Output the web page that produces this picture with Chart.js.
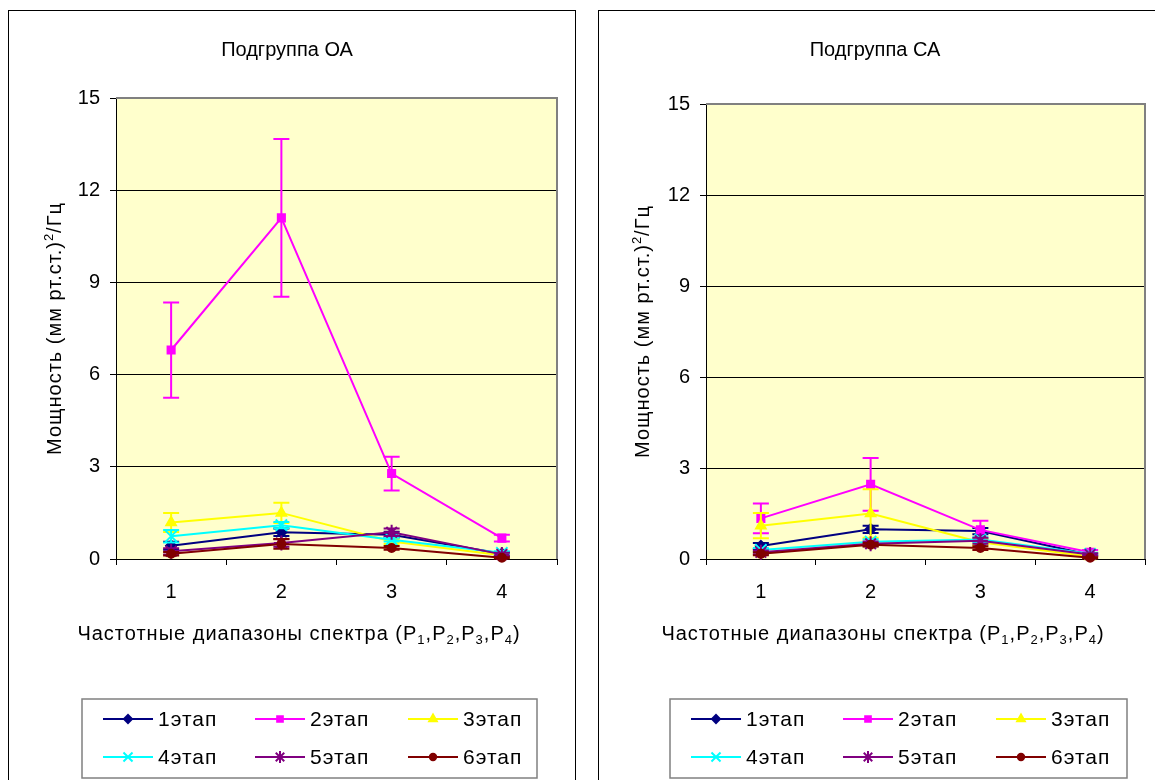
<!DOCTYPE html>
<html>
<head>
<meta charset="utf-8">
<script src="https://cdn.jsdelivr.net/npm/chart.js@4.4.1/dist/chart.umd.min.js"></script>
<style>
  html, body { margin: 0; padding: 0; background: #fff; width: 1155px; height: 780px; overflow: hidden; }
  .frame { position: absolute; border: 1px solid #000; box-sizing: border-box; }
  canvas { position: absolute; top: 0; }
</style>
</head>
<body>
<div class="frame" style="left:8px;top:10px;width:568px;height:800px"></div>
<div class="frame" style="left:598px;top:10px;width:620px;height:800px"></div>
<canvas id="chartOA" width="578" height="780" style="left:0"></canvas>
<canvas id="chartCA" width="567" height="780" style="left:588px"></canvas>
<script>
// Spectral bands (x axis categories)
const categories = ['1', '2', '3', '4'];
const stageNames = ['1этап', '2этап', '3этап', '4этап', '5этап', '6этап'];
const yTickValues = [0, 3, 6, 9, 12, 15];

// Subgroup OA: mean power per band, per stage
const oaStage1 = [0.43, 0.87, 0.79, 0.17];
const oaStage2 = [6.80, 11.10, 2.78, 0.68];
const oaStage3 = [1.19, 1.50, 0.57, 0.12];
const oaStage4 = [0.74, 1.10, 0.63, 0.20];
const oaStage5 = [0.25, 0.52, 0.87, 0.15];
const oaStage6 = [0.17, 0.49, 0.36, 0.04];
// Subgroup OA: error bar half-widths
const oaErr1 = [0.13, 0.12, 0.10, 0.05];
const oaErr2 = [1.55, 2.57, 0.55, 0.11];
const oaErr3 = [0.31, 0.33, 0.08, 0.04];
const oaErr4 = [0.20, 0.10, 0.06, 0.05];
const oaErr5 = [0.10, 0.12, 0.12, 0.05];
const oaErr6 = [0.06, 0.16, 0.06, 0.02];

// Subgroup CA: mean power per band, per stage
const caStage1 = [0.43, 0.98, 0.92, 0.14];
const caStage2 = [1.34, 2.46, 0.96, 0.22];
const caStage3 = [1.10, 1.50, 0.55, 0.08];
const caStage4 = [0.30, 0.57, 0.64, 0.17];
const caStage5 = [0.22, 0.50, 0.60, 0.15];
const caStage6 = [0.17, 0.47, 0.36, 0.04];
// Subgroup CA: error bar half-widths
const caErr1 = [0.10, 0.12, 0.10, 0.04];
const caErr2 = [0.49, 0.87, 0.30, 0.08];
const caErr3 = [0.42, 0.80, 0.10, 0.03];
const caErr4 = [0.06, 0.08, 0.08, 0.04];
const caErr5 = [0.06, 0.08, 0.10, 0.04];
const caErr6 = [0.05, 0.06, 0.06, 0.02];

// Axis titles, with sub/superscript runs
const xTitleRuns = [
  { text: 'Частотные диапазоны спектра (P' }, { text: '1', sub: true },
  { text: ',P' }, { text: '2', sub: true },
  { text: ',P' }, { text: '3', sub: true },
  { text: ',P' }, { text: '4', sub: true },
  { text: ')' }
];
const yTitleRuns = [
  { text: 'Мощность (мм рт.ст.)' }, { text: '2', sup: true }, { text: '/Гц' }
];

// Series appearance
const stageColors = ['#000080', '#FF00FF', '#FFFF00', '#00FFFF', '#800080', '#800000'];
const stageMarkers = ['rectRot', 'rect', 'triangle', 'crossRot', 'star', 'circle'];
const stageMarkerRadius = [5, 5, 5.5, 8, 7.5, 4];

const FONT = "'Liberation Sans', Arial, sans-serif";
Chart.defaults.font.family = FONT;
Chart.defaults.color = '#000';

// Pale yellow plot background and grey top/right frame
const plotBackground = {
  id: 'plotBackground',
  beforeDraw(chart) {
    const { ctx, chartArea: a } = chart;
    ctx.save();
    ctx.fillStyle = '#FFFFCC';
    ctx.fillRect(a.left, a.top, a.right - a.left, a.bottom - a.top);
    ctx.restore();
  },
  beforeDatasetsDraw(chart) {
    const { ctx, chartArea: a } = chart;
    ctx.save();
    ctx.strokeStyle = '#808080';
    ctx.lineWidth = 2;
    ctx.beginPath();
    ctx.moveTo(a.left, a.top);
    ctx.lineTo(a.right, a.top);
    ctx.lineTo(a.right, a.bottom);
    ctx.stroke();
    ctx.restore();
  }
};

// Vertical error bars with caps, positioned through the y scale
const errorBars = {
  id: 'errorBars',
  beforeDatasetDraw(chart, args) {
    const ds = chart.data.datasets[args.index];
    const errs = ds.errors;
    if (!errs) return;
    const ys = chart.scales.y;
    const ctx = chart.ctx;
    ctx.save();
    ctx.strokeStyle = ds.borderColor;
    ctx.lineWidth = 2;
    args.meta.data.forEach((pt, j) => {
      const v = ds.data[j], e = errs[j];
      const top = ys.getPixelForValue(v + e);
      const bot = ys.getPixelForValue(Math.max(v - e, 0));
      const cap = 8;
      ctx.beginPath();
      ctx.moveTo(pt.x, top); ctx.lineTo(pt.x, bot);
      ctx.moveTo(pt.x - cap, top); ctx.lineTo(pt.x + cap, top);
      ctx.moveTo(pt.x - cap, bot); ctx.lineTo(pt.x + cap, bot);
      ctx.stroke();
    });
    ctx.restore();
  }
};

// Text made of runs, centred at (cx, cy), optionally rotated
function drawRuns(ctx, runs, cx, cy, rotation) {
  const base = '20px ' + FONT, small = '13px ' + FONT;
  ctx.save();
  ctx.translate(cx, cy);
  ctx.rotate(rotation);
  ctx.textAlign = 'left';
  ctx.textBaseline = 'alphabetic';
  ctx.letterSpacing = '1px';
  let width = 0;
  runs.forEach(r => { ctx.font = (r.sub || r.sup) ? small : base; width += ctx.measureText(r.text).width; });
  let x = -width / 2;
  runs.forEach(r => {
    ctx.font = (r.sub || r.sup) ? small : base;
    const dy = r.sub ? 4 : (r.sup ? -8 : 0);
    ctx.fillText(r.text, x, 7 + dy);
    x += ctx.measureText(r.text).width;
  });
  ctx.restore();
}

// Chart title and axis titles
const chartTexts = {
  id: 'chartTexts',
  afterDraw(chart, args, opts) {
    const ctx = chart.ctx, a = chart.chartArea;
    ctx.save();
    ctx.fillStyle = '#000';
    ctx.font = '20px ' + FONT;
    ctx.textAlign = 'center';
    ctx.textBaseline = 'middle';
    ctx.fillText(opts.title, opts.titleX, opts.titleY);
    drawRuns(ctx, xTitleRuns, opts.xTitleX, opts.xTitleY, 0);
    drawRuns(ctx, yTitleRuns, opts.yTitleX, (a.top + a.bottom) / 2, -Math.PI / 2);
    ctx.restore();
  }
};

// Boxed legend: three columns, two rows, line sample with marker
const stageLegend = {
  id: 'stageLegend',
  afterDraw(chart, args, opts) {
    const ctx = chart.ctx;
    ctx.save();
    ctx.strokeStyle = '#808080';
    ctx.lineWidth = 1.5;
    ctx.strokeRect(opts.left, opts.top, opts.width, opts.height);
    const colX = [21, 173, 326];
    const rowY = [20, 58];
    chart.data.datasets.forEach((ds, i) => {
      const x0 = opts.left + colX[i % 3];
      const y = opts.top + rowY[Math.floor(i / 3)];
      ctx.strokeStyle = ds.borderColor;
      ctx.lineWidth = 2;
      ctx.beginPath();
      ctx.moveTo(x0, y);
      ctx.lineTo(x0 + 50, y);
      ctx.stroke();
      ctx.fillStyle = ds.pointBackgroundColor;
      ctx.strokeStyle = ds.pointBorderColor;
      ctx.lineWidth = 2;
      Chart.helpers.drawPoint(ctx, {
        pointStyle: ds.pointStyle,
        radius: ds.pointRadius * 0.8,
        rotation: 0,
        borderWidth: 2
      }, x0 + 25, y);
      ctx.fillStyle = '#000';
      ctx.font = '21px ' + FONT;
      ctx.letterSpacing = '1px';
      ctx.textBaseline = 'middle';
      ctx.textAlign = 'left';
      ctx.fillText(ds.label, x0 + 55, y + 1);
      ctx.letterSpacing = '0px';
    });
    ctx.restore();
  }
};

function buildDatasets(series, errors) {
  return series.map((values, i) => ({
    label: stageNames[i],
    data: values,
    errors: errors[i],
    borderColor: stageColors[i],
    backgroundColor: stageColors[i],
    pointBackgroundColor: stageColors[i],
    pointBorderColor: stageColors[i],
    pointBorderWidth: 2,
    pointStyle: stageMarkers[i],
    pointRadius: stageMarkerRadius[i],
    borderWidth: 2,
    tension: 0,
    clip: false,
    order: series.length - i
  }));
}

function makeChart(canvasId, titleText, series, errors, layout) {
  return new Chart(document.getElementById(canvasId), {
    type: 'line',
    data: { labels: categories, datasets: buildDatasets(series, errors) },
    plugins: [plotBackground, errorBars, chartTexts, stageLegend],
    options: {
      responsive: false,
      animation: false,
      events: [],
      layout: { padding: { left: layout.padLeft, right: layout.padRight, top: layout.plotTop, bottom: 131 } },
      plugins: {
        legend: { display: false },
        tooltip: { enabled: false },
        title: { display: false },
        chartTexts: {
          title: titleText,
          titleX: 287, titleY: 50,
          xTitleX: layout.xTitleX, xTitleY: 633,
          yTitleX: 54
        },
        stageLegend: layout.legend
      },
      scales: {
        x: {
          offset: true,
          grid: { offset: true, drawOnChartArea: false, tickLength: 6, color: '#000', tickColor: '#000' },
          border: { color: '#000', width: 1 },
          ticks: { font: { size: 20 }, color: '#000', padding: 15, maxRotation: 0 },
          afterFit(scale) { scale.height = 90; }
        },
        y: {
          min: 0,
          max: 15,
          afterBuildTicks(scale) { scale.ticks = yTickValues.map(v => ({ value: v })); },
          grid: {
            color: ctx => (ctx.tick && ctx.tick.value === 15) ? 'rgba(0,0,0,0)' : '#000',
            lineWidth: 1,
            tickLength: 6,
            tickColor: '#000'
          },
          border: { color: '#000', width: 1 },
          ticks: { font: { size: 20 }, color: '#000', padding: 10 },
          afterFit(scale) { scale.width = 110; }
        }
      }
    }
  });
}

makeChart('chartOA', 'Подгруппа ОА',
  [oaStage1, oaStage2, oaStage3, oaStage4, oaStage5, oaStage6],
  [oaErr1, oaErr2, oaErr3, oaErr4, oaErr5, oaErr6],
  { padLeft: 6, padRight: 21, plotTop: 98, xTitleX: 299, legend: { left: 82, top: 699, width: 455, height: 79 } });

makeChart('chartCA', 'Подгруппа СА',
  [caStage1, caStage2, caStage3, caStage4, caStage5, caStage6],
  [caErr1, caErr2, caErr3, caErr4, caErr5, caErr6],
  { padLeft: 8, padRight: 8, plotTop: 104, xTitleX: 295, legend: { left: 82, top: 699, width: 457, height: 79 } });
</script>
</body>
</html>
